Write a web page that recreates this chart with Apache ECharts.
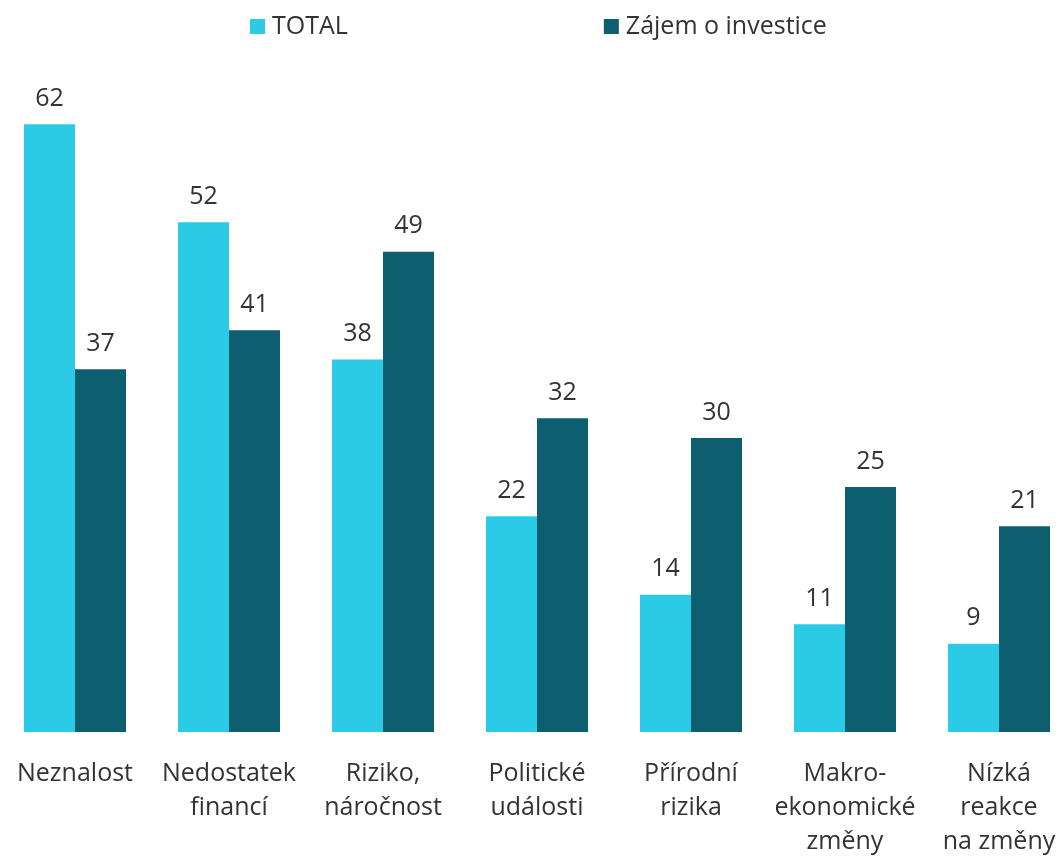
<!DOCTYPE html>
<html><head><meta charset="utf-8">
<script src="https://cdn.jsdelivr.net/npm/echarts@6/dist/echarts.min.js"></script>
<style>html,body{margin:0;padding:0;background:#fff}#c{width:1060px;height:857px}</style>
</head><body><div id="c"></div>
<script>
var categories = ['Neznalost', 'Nedostatek\nfinancí', 'Riziko,\nnáročnost', 'Politické\nudálosti', 'Přírodní\nrizika', 'Makro-\nekonomické\nzměny', 'Nízká\nreakce\nna změny'];
var seriesNames = ['TOTAL', 'Zájem o investice'];
var totalValues = [62, 52, 38, 22, 14, 11, 9];
var investValues = [37, 41, 49, 32, 30, 25, 21];
var colors = ['#2BCBE8', '#0D5E6E'];
var FONT = '"Open Sans", "Noto Sans", sans-serif';
var chart = echarts.init(document.getElementById('c'));
var lbl = {show: true, position: 'top', distance: 13, color: '#333', fontSize: 25, fontFamily: FONT};
chart.setOption({
  animation: false,
  color: colors,
  legend: {
    top: 9, left: 245, itemWidth: 15, itemHeight: 15, itemGap: 256, icon: 'rect',
    textStyle: {color: '#333', fontSize: 25, fontFamily: FONT, padding: [0,0,0,2]},
    data: seriesNames
  },
  grid: {left: -2, width: 1078, top: 41, bottom: 125, containLabel: false, outerBoundsMode: 'none'},
  xAxis: {
    type: 'category', data: categories,
    axisLine: {show: false}, axisTick: {show: false},
    axisLabel: {color: '#333', fontSize: 25, fontFamily: FONT, lineHeight: 34, margin: 25, interval: 0}
  },
  yAxis: {type: 'value', min: 0, max: 70.5, show: false, splitLine: {show: false}},
  series: [
    {name: seriesNames[0], type: 'bar', data: totalValues, barWidth: 51, barGap: '0%', label: lbl},
    {name: seriesNames[1], type: 'bar', data: investValues, barWidth: 51, barGap: '0%', label: lbl}
  ]
});
</script></body></html>
